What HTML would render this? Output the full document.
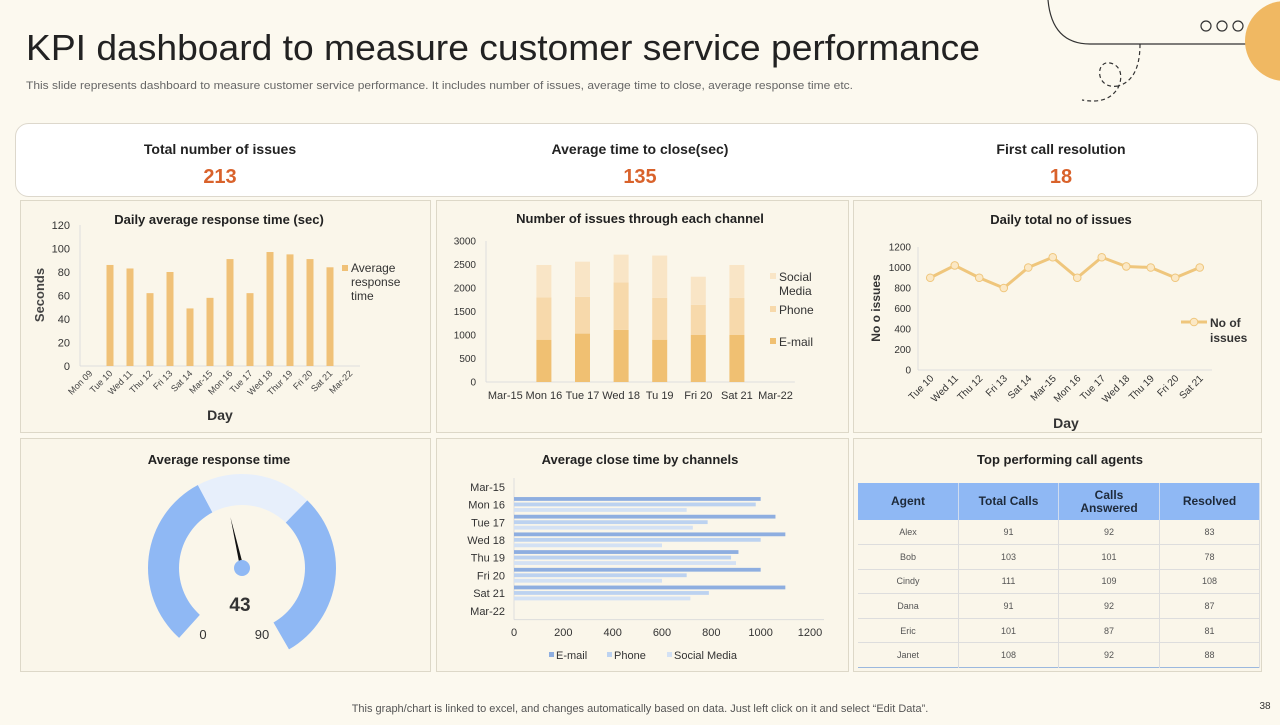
<!DOCTYPE html>
<html><head><meta charset="utf-8">
<style>
body{margin:0;width:1280px;height:720px;overflow:hidden;background:#fcf9ef;font-family:"Liberation Sans",Arial,sans-serif;}
svg text{font-family:"Liberation Sans",Arial,sans-serif;}
</style></head>
<body>
<svg id="s" width="1280" height="720" viewBox="0 0 1280 720" xmlns="http://www.w3.org/2000/svg">
<rect x="0" y="0" width="1280" height="720" fill="#fcf9ef"/>
<g fill="none" stroke="#333" stroke-width="1.2">
<path d="M1048 0 Q1052 44 1090 44 L1248 44"/>
<path d="M1140 44 Q1140 80 1118 86 M1118 86 C1095 90 1095 60 1110 63 C1125 66 1122 85 1115 92 Q1105 104 1082 100" stroke-dasharray="4 3"/>
<circle cx="1206" cy="26" r="5"/><circle cx="1222" cy="26" r="5"/><circle cx="1238" cy="26" r="5"/>
</g>
<circle cx="1285" cy="41" r="40" fill="#f0b862"/>
<text x="26" y="60" font-size="36" textLength="954" lengthAdjust="spacingAndGlyphs" fill="#222">KPI dashboard to measure customer service performance</text>
<text x="26" y="89" font-size="11" textLength="827" lengthAdjust="spacingAndGlyphs" fill="#666">This slide represents dashboard to measure customer service performance. It includes number of issues, average time to close, average response time etc.</text>
<rect x="15.5" y="123.5" width="1242" height="73" rx="13" fill="#fff" stroke="#ddd8cc"/>
<g text-anchor="middle">
<text x="220" y="154" font-size="14" font-weight="bold" fill="#222">Total number of issues</text>
<text x="220" y="183" font-size="20" font-weight="bold" fill="#d9622b">213</text>
<text x="640" y="154" font-size="14" font-weight="bold" fill="#222">Average time to close(sec)</text>
<text x="640" y="183" font-size="20" font-weight="bold" fill="#d9622b">135</text>
<text x="1061" y="154" font-size="14" font-weight="bold" fill="#222">First call resolution</text>
<text x="1061" y="183" font-size="20" font-weight="bold" fill="#d9622b">18</text>
</g>
<g fill="#faf6ea" stroke="#ddd8c8">
<rect x="20.5" y="200.5" width="410" height="232"/>
<rect x="436.5" y="200.5" width="412" height="232"/>
<rect x="853.5" y="200.5" width="408" height="232"/>
<rect x="20.5" y="438.5" width="410" height="233"/>
<rect x="436.5" y="438.5" width="412" height="233"/>
<rect x="853.5" y="438.5" width="408" height="233"/>
</g>
<g font-weight="bold" font-size="13" fill="#222" text-anchor="middle">
<text x="219" y="224">Daily average response time (sec)</text>
<text x="640" y="223">Number of issues through each channel</text>
<text x="1061" y="224">Daily total no of issues</text>
<text x="219" y="464">Average response time</text>
<text x="640" y="464">Average close time by channels</text>
<text x="1060" y="464">Top performing call agents</text>
</g>
<g id="c1"></g><g id="c2"></g><g id="c3"></g><g id="c4"></g><g id="c5"></g>
<text x="640" y="712" font-size="11" fill="#555" text-anchor="middle">This graph/chart is linked to excel, and changes automatically based on data. Just left click on it and select “Edit Data”.</text>
<text x="1265" y="709" font-size="10" fill="#333" text-anchor="middle">38</text>
</svg>
<div id="tbl" style="position:absolute;left:858px;top:483px;"></div>
<script>
// Chart 1 data
const c1Cats=["Mon 09","Tue 10","Wed 11","Thu 12","Fri 13","Sat 14","Mar-15","Mon 16","Tue 17","Wed 18","Thur 19","Fri 20","Sat 21","Mar-22"];
const c1Vals=[0,86,83,62,80,49,58,91,62,97,95,91,84,0];
const c1Ticks=[0,20,40,60,80,100,120];
// Chart 2 data
const c2Cats=["Mar-15","Mon 16","Tue 17","Wed 18","Tu 19","Fri 20","Sat 21","Mar-22"];
const c2Email=[0,900,1030,1110,900,1000,1000,0];
const c2Phone=[0,900,780,1010,890,640,790,0];
const c2Social=[0,690,750,590,900,600,700,0];
const c2Ticks=[0,500,1000,1500,2000,2500,3000];
// Chart 3 data
const c3Cats=["Tue 10","Wed 11","Thu 12","Fri 13","Sat 14","Mar-15","Mon 16","Tue 17","Wed 18","Thu 19","Fri 20","Sat 21"];
const c3Vals=[900,1020,900,800,1000,1100,900,1100,1010,1000,900,1000];
const c3Ticks=[0,200,400,600,800,1000,1200];
// Gauge data
const gaugeValue=43;
const gaugeMin=0;
const gaugeMax=90;
// Chart 5 data
const c5Cats=["Mar-15","Mon 16","Tue 17","Wed 18","Thu 19","Fri 20","Sat 21","Mar-22"];
const c5Email=[0,1000,1060,1100,910,1000,1100,0];
const c5Phone=[0,980,785,1000,880,700,790,0];
const c5Social=[0,700,725,600,900,600,715,0];
const c5Ticks=[0,200,400,600,800,1000,1200];
// Table data
const agents=["Alex","Bob","Cindy","Dana","Eric","Janet"];
const totalCalls=[91,103,111,91,101,108];
const callsAnswered=[92,101,109,92,87,92];
const resolved=[83,78,108,87,81,88];

const NS="http://www.w3.org/2000/svg";
function mk(parent,tag,attrs,txt){const e=document.createElementNS(NS,tag);for(const k in attrs)e.setAttribute(k,attrs[k]);if(txt!==undefined)e.textContent=txt;parent.appendChild(e);return e;}

(function(){
const g=document.getElementById('c1');
const x0=80,x1=360,yb=366,yt=225,max=120;
const y=v=>yb-(v/max)*(yb-yt);
const slot=(x1-x0)/c1Cats.length;
c1Ticks.forEach(t=>{const e=mk(g,'text',{x:70,y:y(t)+4,'font-size':11,fill:'#333','text-anchor':'end'},t);

});
mk(g,'line',{x1:x0,y1:yt,x2:x0,y2:yb,stroke:'#ddd'});
mk(g,'line',{x1:x0,y1:yb,x2:x1,y2:yb,stroke:'#ddd'});
c1Vals.forEach((v,i)=>{const cx=x0+slot*(i+0.5);
const r=mk(g,'rect',{x:cx-3.5,y:y(v),width:7,height:yb-y(v),fill:'#f0c177'});


const t=mk(g,'text',{x:cx+3,y:yb+8,'font-size':9,fill:'#444','text-anchor':'end',transform:`rotate(-45 ${cx+3} ${yb+8})`},c1Cats[i]);

});
const yl=mk(g,'text',{x:44,y:295,'font-size':13,'font-weight':'bold',fill:'#444','text-anchor':'middle',transform:'rotate(-90 44 295)'},'Seconds');


const xl=mk(g,'text',{x:220,y:420,'font-size':14,'font-weight':'bold',fill:'#333','text-anchor':'middle'},'Day');


const lg=mk(g,'g',{});


mk(lg,'rect',{x:342,y:265,width:6,height:6,fill:'#f0c177'});
['Average','response','time'].forEach((s,i)=>mk(lg,'text',{x:351,y:272+i*14,'font-size':12,fill:'#333'},s));
})();

(function(){
const g=document.getElementById('c2');
const x0=486,yb=382,yt=241,max=3000;
const y=v=>yb-(v/max)*(yb-yt);
const slot=38.6;
c2Ticks.forEach(t=>{const e=mk(g,'text',{x:476,y:y(t)+3.5,'font-size':10,fill:'#333','text-anchor':'end'},t);

});
mk(g,'line',{x1:x0,y1:yt,x2:x0,y2:yb,stroke:'#ddd'});
mk(g,'line',{x1:x0,y1:yb,x2:x0+slot*8,y2:yb,stroke:'#ddd'});
c2Cats.forEach((c,i)=>{const cx=x0+slot*(i+0.5);
let base=0;
[[c2Email,'#f0c072','c2-bar-email'],[c2Phone,'#f7d9ab','c2-bar-phone'],[c2Social,'#f9e5c6','c2-bar-social']].forEach(([arr,col,nm])=>{
const v=arr[i];const r=mk(g,'rect',{x:cx-7.5,y:y(base+v),width:15,height:y(base)-y(base+v),fill:col});


base+=v;});
const t=mk(g,'text',{x:cx,y:399,'font-size':11,fill:'#333','text-anchor':'middle'},c);

});
const lg=mk(g,'g',{});


mk(lg,'rect',{x:770,y:273,width:6,height:6,fill:'#f9e5c6'});
mk(lg,'text',{x:779,y:281,'font-size':12,fill:'#333'},'Social');
mk(lg,'text',{x:779,y:295,'font-size':12,fill:'#333'},'Media');
mk(lg,'rect',{x:770,y:306,width:6,height:6,fill:'#f7d9ab'});
mk(lg,'text',{x:779,y:314,'font-size':12,fill:'#333'},'Phone');
mk(lg,'rect',{x:770,y:338,width:6,height:6,fill:'#f0c072'});
mk(lg,'text',{x:779,y:346,'font-size':12,fill:'#333'},'E-mail');
})();

(function(){
const g=document.getElementById('c3');
const x0=918,yb=370,yt=247,max=1200,slot=24.5;
const y=v=>yb-(v/max)*(yb-yt);
c3Ticks.forEach(t=>{const e=mk(g,'text',{x:911,y:y(t)+3.5,'font-size':10,fill:'#333','text-anchor':'end'},t);

});
mk(g,'line',{x1:x0,y1:yt,x2:x0,y2:yb,stroke:'#ddd'});
mk(g,'line',{x1:x0,y1:yb,x2:x0+slot*12,y2:yb,stroke:'#ddd'});
const pts=c3Vals.map((v,i)=>[x0+slot*(i+0.5),y(v)]);
const pl=mk(g,'polyline',{points:pts.map(p=>p.join(',')).join(' '),fill:'none',stroke:'#efc67c','stroke-width':3,'stroke-linejoin':'round'});


pts.forEach((p,i)=>{const c=mk(g,'circle',{cx:p[0],cy:p[1],r:3.8,fill:'#fbe8c5',stroke:'#efc67c','stroke-width':1});


const t=mk(g,'text',{x:p[0]+4,y:yb+9,'font-size':10,fill:'#333','text-anchor':'end',transform:`rotate(-45 ${p[0]+4} ${yb+9})`},c3Cats[i]);

});
const yl=mk(g,'text',{x:880,y:308,'font-size':12,'font-weight':'bold',fill:'#333','text-anchor':'middle',transform:'rotate(-90 880 308)'},'No o issues');


const xl=mk(g,'text',{x:1066,y:428,'font-size':14,'font-weight':'bold',fill:'#333','text-anchor':'middle'},'Day');


const lg=mk(g,'g',{});


mk(lg,'line',{x1:1181,y1:322,x2:1207,y2:322,stroke:'#efc67c','stroke-width':3});
mk(lg,'circle',{cx:1194,cy:322,r:3.8,fill:'#fbe8c5',stroke:'#efc67c'});
mk(lg,'text',{x:1210,y:327,'font-size':12,'font-weight':'bold',fill:'#333'},'No of');
mk(lg,'text',{x:1210,y:342,'font-size':12,'font-weight':'bold',fill:'#333'},'issues');
})();

(function(){
const g=document.getElementById('c4');
const cx=242,cy=568,R=94,r=63;
const pt=(a,rad)=>[cx+rad*Math.sin(a*Math.PI/180),cy-rad*Math.cos(a*Math.PI/180)];
function arc(a1,a2,col,nm){const p1=pt(a1,R),p2=pt(a2,R),p3=pt(a2,r),p4=pt(a1,r);const lg=(a2-a1)>180?1:0;
const e=mk(g,'path',{d:`M${p1} A${R},${R} 0 ${lg} 1 ${p2} L${p3} A${r},${r} 0 ${lg} 0 ${p4}Z`,fill:col});

}
arc(-138,-28,'#8fb8f4','gauge-left-band');
arc(-28,44,'#e7effb','gauge-mid-band');
arc(44,150,'#8fb8f4','gauge-right-band');
const ang=-138+(gaugeValue-gaugeMin)/(gaugeMax-gaugeMin)*262;
const tip=pt(ang,52),b1=pt(ang+90,1.8),b2=pt(ang-90,1.8);
const nd=mk(g,'polygon',{points:`${tip} ${b1} ${b2}`,fill:'#111'});


const hub=mk(g,'circle',{cx:cx,cy:cy,r:8,fill:'#8fb8f4'});


const v=mk(g,'text',{x:240,y:611,'font-size':19,'font-weight':'bold',fill:'#333','text-anchor':'middle'},gaugeValue);


const mn=mk(g,'text',{x:203,y:639,'font-size':13,fill:'#333','text-anchor':'middle'},gaugeMin);


const mx=mk(g,'text',{x:262,y:639,'font-size':13,fill:'#333','text-anchor':'middle'},gaugeMax);


})();

(function(){
const g=document.getElementById('c5');
const x0=514,x1=810,max=1200,yt=478,slot=17.7;
const x=v=>x0+(v/max)*(x1-x0);
const yb=yt+slot*8;
c5Ticks.forEach(t=>{const e=mk(g,'text',{x:x(t),y:636,'font-size':11,fill:'#333','text-anchor':'middle'},t);

});
mk(g,'line',{x1:x0,y1:yt,x2:x0,y2:yb,stroke:'#ddd'});
mk(g,'line',{x1:x0,y1:yb,x2:x0+310,y2:yb,stroke:'#ddd'});
c5Cats.forEach((c,i)=>{const cy=yt+slot*(i+0.5);
const t=mk(g,'text',{x:505,y:cy+4,'font-size':11,fill:'#333','text-anchor':'end'},c);


[[c5Email,'#8eaee0','c5-bar-email',-7.5],[c5Phone,'#bcd2f0','c5-bar-phone',-2],[c5Social,'#d3e1f4','c5-bar-social',3.5]].forEach(([arr,col,nm,off])=>{
if(!arr[i])return;
const r=mk(g,'rect',{x:x0,y:cy+off,width:x(arr[i])-x0,height:3.8,fill:col});

});});
const lg=mk(g,'g',{});


[['E-mail','#8eaee0',549],['Phone','#bcd2f0',607],['Social Media','#d3e1f4',667]].forEach(([s,col,lx])=>{
mk(lg,'rect',{x:lx,y:652,width:5,height:5,fill:col});
mk(lg,'text',{x:lx+7,y:659,'font-size':11,fill:'#333'},s);});
})();

(function(){
const w=document.getElementById('tbl');
const cols=[100,99,100,99];
let h='<table style="border-collapse:collapse;font-family:\'Liberation Sans\',Arial,sans-serif;table-layout:fixed;width:398px;">';
h+='<tr style="background:#8fb8f4;height:37px;">';
['Agent','Total Calls','Calls<br>Answered','Resolved'].forEach((s,i)=>{h+=`<th style="width:${cols[i]}px;font-size:12px;color:#1e2a3a;line-height:13px;border-right:1px solid #cfdcef;padding:0">${s}</th>`;});
h+='</tr>';
agents.forEach((a,i)=>{h+=`<tr style="height:24.6px;font-size:9px;color:#555;text-align:center;border-bottom:1px solid #ddd">`;
[a,totalCalls[i],callsAnswered[i],resolved[i]].forEach(v=>{h+=`<td style="border-right:1px solid #ddd;padding:0">${v}</td>`;});
h+='</tr>';});
h+='</table>';
w.innerHTML=h;
const tb=w.firstChild;tb.rows[tb.rows.length-1].style.borderBottom='1px solid #9bb8de';
})();
</script>
</body></html>
